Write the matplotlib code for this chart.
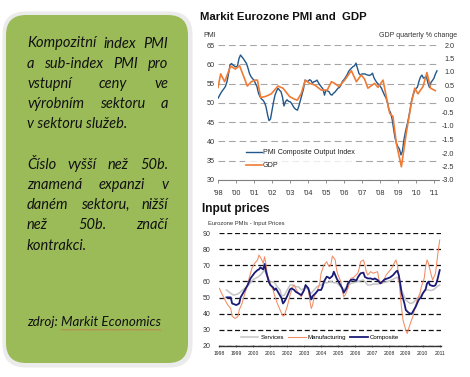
import numpy as np
import matplotlib
matplotlib.use("Agg")
import matplotlib.pyplot as plt
from matplotlib.patches import FancyBboxPatch
from matplotlib.lines import Line2D

plt.rcParams["axes.unicode_minus"] = False

W, H, DPI = 470, 377, 100

# ── Left text box (Czech) ─────────────────────────────────────────────────────
box_lines = [
    ("Kompozitní index PMI", True),
    ("a sub-index PMI pro", True),
    ("vstupní ceny ve", True),
    ("výrobním sektoru a", True),
    ("v sektoru služeb.", False),
    ("", False),
    ("Číslo vyšší než 50b.", True),
    ("znamená expanzi v", True),
    ("daném sektoru, nižší", True),
    ("než 50b. značí", True),
    ("kontrakci.", False),
]
source_prefix = "zdroj: "
source_name = "Markit Economics"

# ── Chart 1: PMI composite (monthly, from first tick) and GDP q/q % ───────────
pmi_labels = ["'98", "'00", "'01", "'02", "'03", "'04", "'05", "'06",
              "'07", "'08", "'09", "'10", "'11"]
pmi = [51.2, 51.9, 52.6, 53.2, 53.7, 54.3, 55.5, 57.5, 59.8, 60.2, 59.8, 59.5,
       59.3, 59.6, 61.5, 62.4, 61.9, 61.4, 60.8, 60.2, 59.0, 57.6, 56.8, 56.3,
       55.9, 55.0, 54.2, 52.5, 51.6, 51.0, 50.7, 50.1, 49.0, 47.0, 45.4, 45.8,
       48.0, 50.2, 52.0, 53.0, 53.8, 53.3, 52.9, 51.5, 49.2, 50.3, 50.8, 50.4,
       50.3, 49.9, 49.2, 48.6, 48.3, 48.1, 49.3, 50.7, 52.2, 53.6, 55.9, 55.7,
       55.5, 56.0, 55.8, 55.1, 55.5, 55.6, 55.9, 55.2, 54.6, 54.1, 53.6, 52.0,
       53.3, 53.1, 52.9, 52.2, 52.0, 52.5, 52.8, 53.3, 53.8, 54.0, 54.6, 55.6,
       56.0, 56.6, 57.2, 58.1, 58.6, 59.0, 59.4, 59.6, 60.3, 59.0, 57.6, 57.2,
       57.5, 57.5, 57.5, 57.3, 57.2, 57.1, 57.3, 57.7, 56.5, 55.8, 55.2, 54.8,
       54.4, 53.8, 52.9, 52.0, 51.3, 50.0, 48.2, 47.5, 46.0, 43.5, 41.0, 39.5,
       38.6, 38.0, 36.5, 37.5, 40.5, 42.5, 44.2, 45.9, 48.0, 50.4, 52.0, 53.0,
       53.7, 54.1, 55.6, 56.7, 57.2, 56.4, 56.6, 56.8, 55.1, 54.0, 55.3, 55.8,
       56.4, 57.5, 58.3]
gdp_t = [0.0, 0.15, 0.37, 0.70, 0.96, 1.20, 1.63, 1.85, 2.07, 2.19, 2.37, 2.63,
         2.96, 3.33, 3.61, 3.98, 4.26, 4.41, 4.63, 4.85, 5.09, 5.37, 5.74, 6.07,
         6.30, 6.48, 6.72, 7.04, 7.41, 7.69, 7.96, 8.15, 8.33, 8.70, 8.89, 9.17,
         9.35, 9.54, 9.72, 9.91, 10.19, 10.46, 10.74, 10.93, 11.11, 11.39,
         11.61, 11.81, 12.07]
gdp = [0.43, 0.93, 0.64, 1.22, 1.11, 1.23, 0.48, 0.64, 0.70, 0.70, 0.06, 0.09,
       0.19, 0.48, 0.40, 0.09, -0.01, -0.04, 0.21, 0.70, 0.58, 0.52, 0.33, 0.33,
       0.64, 0.58, 0.46, 0.70, 1.05, 0.64, 0.89, 0.73, 0.40, 0.58, 0.43, 0.70,
       0.09, -0.53, -0.65, -1.64, -2.51, -1.27, -0.16, 0.40, 0.19, 0.46,
       0.98, 0.40, 0.31]

# ── Chart 2: input prices (months since Jan 1998) ─────────────────────────────
years2 = list(range(1998, 2012))
manu_m = [0, 1, 4, 6, 8, 9, 11, 13, 14, 16, 18, 20, 21, 23, 25, 27, 28, 30, 31,
          32, 33, 34, 36, 38, 39, 41, 43, 45, 46, 48, 50, 52, 53, 54, 56, 58,
          60, 61, 63, 64, 65, 66, 67, 69, 71, 72, 74, 76, 77, 78, 79, 80, 82,
          83, 84, 86, 87, 88, 89, 91, 93, 95, 96, 98, 99, 100, 102, 103, 104,
          105, 107, 109, 110, 112, 113, 115, 117, 118, 120, 122, 123, 125, 126,
          127, 128, 129, 130, 132, 133, 134, 136, 137, 138, 140, 142, 143, 145,
          146, 147, 148, 150, 151, 152, 153, 154, 155, 156]
manu = [55.7, 53.6, 48.4, 45.3, 43.2, 38.4, 37.0, 38.0, 42.2, 46.3, 52.6, 57.8,
        61.9, 68.2, 71.3, 73.4, 76.5, 73.4, 71.3, 75.4, 70.2, 64.0, 58.8, 54.7,
        51.5, 46.3, 42.2, 38.4, 39.0, 44.3, 51.5, 56.7, 57.8, 55.7, 52.6, 50.5,
        54.7, 57.8, 54.7, 48.4, 43.2, 45.3, 50.5, 53.6, 58.8, 65.1, 70.2, 72.3,
        70.2, 69.2, 70.9, 75.9, 73.4, 67.1, 64.0, 59.9, 54.7, 50.5, 51.5, 55.7,
        61.9, 62.6, 63.4, 65.1, 68.2, 72.3, 73.4, 70.2, 66.1, 64.0, 66.1, 65.1,
        65.5, 66.1, 60.9, 58.8, 61.9, 64.0, 66.1, 68.2, 70.2, 73.4, 70.2, 63.0,
        52.6, 43.2, 35.9, 29.7, 27.6, 30.7, 35.9, 38.0, 42.2, 48.4, 52.6, 56.7,
        61.9, 69.2, 73.4, 71.3, 64.0, 60.9, 63.0, 65.1, 72.3, 79.6, 85.8]
comp_m = [5, 8, 9, 12, 14, 15, 18, 20, 22, 25, 27, 28, 29, 31, 32, 33, 35, 36,
          38, 39, 40, 42, 44, 45, 46, 48, 50, 51, 53, 54, 56, 58, 60, 61, 63,
          64, 65, 66, 68, 70, 72, 73, 74, 76, 77, 78, 80, 81, 82, 83, 85, 87,
          88, 90, 91, 93, 95, 97, 98, 100, 102, 103, 105, 107, 109, 110, 112,
          114, 116, 117, 119, 121, 123, 125, 126, 127, 128, 129, 131, 132, 134,
          136, 137, 139, 141, 143, 144, 146, 147, 148, 149, 151, 152, 153, 154,
          155, 156]
comp = [50.1, 50.1, 46.3, 45.3, 46.3, 50.1, 54.7, 57.8, 61.9, 65.5, 67.1, 67.5,
        68.8, 67.5, 70.9, 66.1, 59.9, 57.8, 56.3, 54.7, 55.7, 52.6, 49.5, 46.3,
        47.4, 50.9, 55.1, 55.7, 54.7, 53.6, 52.6, 51.5, 54.7, 57.8, 55.7, 52.2,
        48.8, 50.9, 52.6, 54.7, 54.7, 56.7, 59.9, 63.0, 62.6, 61.9, 63.4, 66.1,
        64.0, 61.9, 58.8, 55.7, 53.0, 55.7, 58.8, 60.9, 61.3, 60.5, 62.6, 65.1,
        65.5, 62.8, 61.9, 61.9, 61.3, 61.9, 60.9, 58.8, 60.5, 61.3, 61.9, 62.6,
        64.0, 66.1, 66.7, 64.0, 58.8, 52.6, 46.3, 42.2, 40.5, 39.7, 41.2, 44.3,
        48.4, 50.5, 52.6, 55.1, 58.8, 59.9, 57.8, 57.2, 57.2, 57.8, 59.9, 63.4,
        67.1]
serv_m = [5, 8, 10, 13, 15, 17, 20, 22, 24, 27, 29, 31, 32, 34, 35, 37, 39, 41,
          43, 44, 46, 48, 50, 52, 54, 56, 58, 60, 61, 63, 65, 67, 69, 72, 74,
          76, 79, 81, 83, 86, 88, 90, 93, 95, 98, 100, 102, 105, 107, 109, 112,
          114, 116, 119, 121, 124, 126, 128, 129, 131, 132, 135, 137, 139, 142,
          144, 146, 148, 150, 152, 154, 156]
serv = [54.7, 52.6, 51.5, 52.2, 53.6, 55.1, 57.2, 59.2, 61.3, 62.6, 64.0, 66.1,
        67.1, 63.0, 59.2, 59.9, 59.2, 56.7, 54.7, 50.9, 51.5, 54.7, 57.8, 57.8,
        56.7, 56.7, 54.7, 55.7, 56.3, 54.7, 52.6, 54.7, 56.7, 57.8, 59.2, 59.2,
        59.9, 59.2, 59.2, 56.7, 54.7, 56.7, 58.8, 59.2, 59.9, 60.5, 60.9, 57.8,
        57.8, 58.4, 58.4, 58.8, 59.2, 59.9, 60.5, 61.9, 62.6, 58.8, 54.7, 50.5,
        48.4, 46.3, 46.7, 48.4, 50.9, 52.6, 54.7, 54.7, 54.3, 55.1, 56.7, 57.8]

# ── Styles ────────────────────────────────────────────────────────────────────
GREEN = "#9bbb59"
BLUE = "#24578a"
ORANGE = "#ef7b35"
SALMON = "#f28c63"
NAVY = "#1b1b78"
SILVER = "#c4c4c4"
TXT = "#333333"
FONT = "Liberation Sans"

fig = plt.figure(figsize=(W / DPI, H / DPI), dpi=DPI)
fig.patch.set_facecolor("white")


def rect(x0, y0, x1, y1):
    """pixel box (top-left origin) -> figure fraction"""
    return [x0 / W, 1 - y1 / H, (x1 - x0) / W, (y1 - y0) / H]


# ── Background / text box ─────────────────────────────────────────────────────
bg = fig.add_axes([0, 0, 1, 1])
bg.set_xlim(0, W)
bg.set_ylim(H, 0)
bg.axis("off")

bg.add_patch(FancyBboxPatch((2.5, 11.5), 190, 356,
                            boxstyle="round,pad=0,rounding_size=23",
                            fc="#ebebeb", ec="none"))
bg.add_patch(FancyBboxPatch((6, 15), 182, 348,
                            boxstyle="round,pad=0,rounding_size=20",
                            fc=GREEN, ec="none"))

renderer = fig.canvas.get_renderer()
tfont = dict(family="Lato", style="italic", fontsize=10.5, color="#111111")
x_left, x_right = 27, 168
y0, dy = 47.5, 20.2

for i, (line, justify) in enumerate(box_lines):
    if not line:
        continue
    yb = y0 + i * dy
    words = line.split(" ")
    if not justify:
        bg.text(x_left, yb, line, va="baseline", ha="left", **tfont)
        continue
    objs = [bg.text(0, yb, w, va="baseline", ha="left", **tfont) for w in words]
    widths = [o.get_window_extent(renderer).width for o in objs]
    gap = (x_right - x_left - sum(widths)) / (len(words) - 1)
    x = x_left
    for o, wd in zip(objs, widths):
        o.set_x(x)
        x += wd + gap

ys = 326.5
sfont = dict(tfont, fontsize=9.6)
t1 = bg.text(x_left, ys, source_prefix, va="baseline", ha="left", **sfont)
w1 = t1.get_window_extent(renderer).width
t2 = bg.text(x_left + w1, ys, source_name, va="baseline", ha="left", **sfont)
w2 = t2.get_window_extent(renderer).width
# spell-check squiggle under the source name
xs = np.arange(x_left + w1, x_left + w1 + w2, 1.2)
bg.plot(xs, ys + 3 + 0.7 * (np.arange(len(xs)) % 2), color="#e0504a",
        lw=0.35, alpha=0.9)

# ── Chart 1: Markit Eurozone PMI and GDP ──────────────────────────────────────
bg.text(200, 17, "Markit Eurozone PMI and  GDP", family=FONT, fontweight="bold",
        fontsize=8.2, va="center", ha="left", color="#111111")
bg.text(203, 35.5, "PMI", family=FONT, fontsize=5, va="center", ha="left", color=TXT)
bg.text(457, 35.5, "GDP quarterly % change", family=FONT, fontsize=5,
        va="center", ha="right", color=TXT)

ax1 = fig.add_axes(rect(218, 45, 439, 180))
ax1.plot(np.arange(len(pmi)) / 12, pmi, color=BLUE, lw=1.0, zorder=3)
ax1.set_xlim(0, 12.28)
ax1.set_ylim(30, 65)
ax1.set_yticks(np.arange(30, 66, 5))
ax1.set_xticks(np.arange(len(pmi_labels)))
ax1.set_xticklabels(pmi_labels)
ax1.grid(axis="y", color="#a6a6a6", lw=0.8, linestyle=(0, (6, 3.5)))
for s in ["top", "left", "right"]:
    ax1.spines[s].set_visible(False)
ax1.spines["bottom"].set_color("#808080")
ax1.spines["bottom"].set_linewidth(0.8)
ax1.tick_params(axis="y", length=0, pad=2.5, labelsize=5.2, labelcolor=TXT)
ax1.tick_params(axis="x", length=2, width=0.6, color="#808080", pad=5,
                labelsize=5.2, labelcolor=TXT)
for lab in ax1.get_xticklabels() + ax1.get_yticklabels():
    lab.set_family(FONT)

ax2 = ax1.twinx()
ax2.plot(gdp_t, gdp, color=ORANGE, lw=1.2, zorder=2)
ax2.set_ylim(-3.0, 2.0)
ax2.set_yticks(np.arange(-3.0, 2.01, 0.5))
ax2.set_yticklabels([f"{v:.1f}" for v in np.arange(-3.0, 2.01, 0.5)])
for s in ax2.spines.values():
    s.set_visible(False)
ax2.tick_params(axis="y", length=0, pad=11, labelsize=5.2, labelcolor=TXT)
for lab in ax2.get_yticklabels():
    lab.set_family(FONT)
    lab.set_ha("right")

h1 = [Line2D([], [], color=BLUE, lw=1.0), Line2D([], [], color=ORANGE, lw=1.2)]
leg1 = ax2.legend(h1, ["PMI Composite Output Index", "GDP"], loc="upper left",
                  bbox_to_anchor=(0.12, 0.24), frameon=True, fancybox=False,
                  prop=dict(family=FONT, size=5.1), handlelength=2.2,
                  handletextpad=0.2, labelspacing=0.9, borderpad=0.2,
                  borderaxespad=0)
leg1.get_frame().set_facecolor("white")
leg1.get_frame().set_edgecolor("none")
for t in leg1.get_texts():
    t.set_color("#222222")

# ── Chart 2: Input prices ─────────────────────────────────────────────────────
bg.text(202, 209, "Input prices", family=FONT, fontweight="bold", fontsize=8.6,
        va="center", ha="left", color="#111111")
bg.text(208, 224, "Eurozone PMIs - Input Prices", family=FONT, fontsize=4.2,
        va="center", ha="left", color=TXT)

ax3 = fig.add_axes(rect(219, 233.3, 441, 345.7))
ax3.plot(serv_m, serv, color=SILVER, lw=1.1, zorder=2)
ax3.plot(manu_m, manu, color=SALMON, lw=0.75, zorder=3)
ax3.plot(comp_m, comp, color=NAVY, lw=1.3, zorder=4)
ax3.set_xlim(-0.3, 156.9)
ax3.set_ylim(20, 90)
ax3.set_yticks(np.arange(20, 91, 10))
ax3.set_xticks([(y - 1998) * 12 for y in years2])
ax3.set_xticklabels([str(y) for y in years2])
ax3.grid(axis="y", color="#111111", lw=0.9, linestyle=(0, (4, 2.2)))
for s in ["top", "left", "right"]:
    ax3.spines[s].set_visible(False)
ax3.spines["bottom"].set_color("#333333")
ax3.spines["bottom"].set_linewidth(1.0)
ax3.tick_params(axis="y", length=0, pad=6, labelsize=5.0, labelcolor=TXT)
ax3.tick_params(axis="x", length=2, width=0.5, direction="inout", color="#333333",
                pad=3, labelsize=3.6, labelcolor="#222222")
for lab in ax3.get_xticklabels() + ax3.get_yticklabels():
    lab.set_family(FONT)

h2 = [Line2D([], [], color=SILVER, lw=1.1), Line2D([], [], color=SALMON, lw=0.75),
      Line2D([], [], color=NAVY, lw=1.3)]
leg2 = ax3.legend(h2, ["Services", "Manufacturing", "Composite"], ncol=3,
                  loc="center", bbox_to_anchor=(0.455, 0.077), frameon=True,
                  fancybox=False, prop=dict(family=FONT, size=4.4),
                  handlelength=2.9, handletextpad=0.3, columnspacing=0.7,
                  borderpad=0.1, borderaxespad=0)
leg2.get_frame().set_facecolor("white")
leg2.get_frame().set_edgecolor("none")

fig.savefig("out.png", dpi=DPI, facecolor="white")
